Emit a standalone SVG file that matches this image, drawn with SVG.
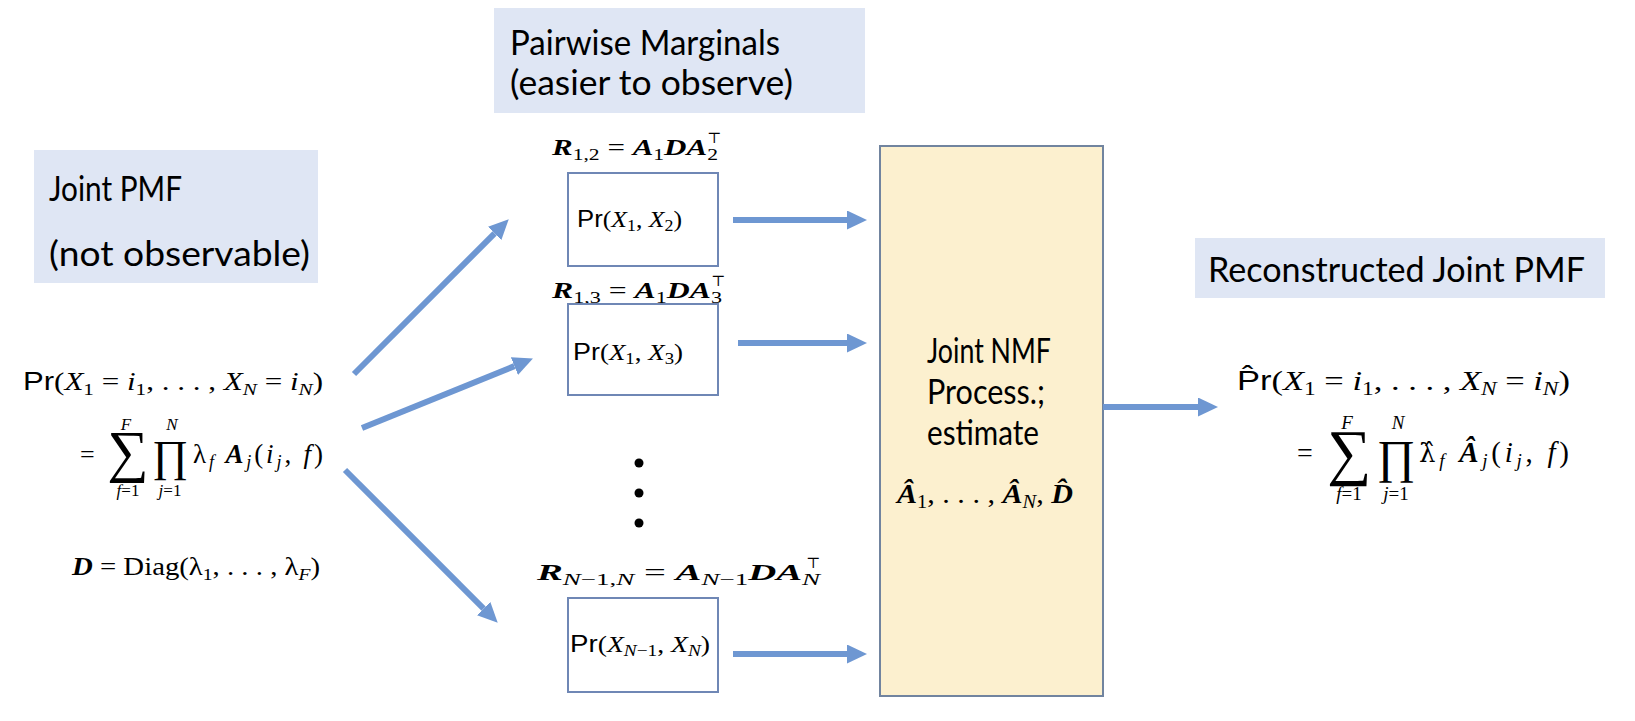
<svg xmlns="http://www.w3.org/2000/svg" width="1635" height="721" viewBox="0 0 1635 721">
<style>
.title{font-family:"Lato","Open Sans","Liberation Sans",sans-serif;font-size:34px;fill:#000}
.tbox{fill:#dfe6f4;stroke:none}
.m{font-family:"Liberation Serif","DejaVu Serif",serif;font-style:italic;fill:#000}
.b{font-weight:bold}
.nb{font-weight:normal}
.up{font-style:normal}
.it{font-style:italic}
.sf{font-family:"Liberation Sans","DejaVu Sans",sans-serif;font-style:normal}
.dj{font-family:"DejaVu Serif",serif}
.pbox{fill:#fff;stroke:#6f87b5;stroke-width:2}
.ybox{fill:#fcf0cf;stroke:#71849f;stroke-width:2}
.conn{stroke:#6e97d2;stroke-width:6;fill:none;marker-end:url(#ah)}
</style>
<defs>
<marker id="ah" markerUnits="userSpaceOnUse" markerWidth="20" markerHeight="19" viewBox="0 0 20 19" refX="0" refY="9.5" orient="auto">
<path d="M0,0 L20,9.5 L0,19 z" fill="#6e97d2"/>
</marker>
</defs>

<g id="title-joint">
<rect class="tbox" x="34" y="150" width="284" height="133"/>
<text class="title" x="49" y="201" textLength="133" lengthAdjust="spacingAndGlyphs">Joint PMF</text>
<text class="title" x="49" y="266" textLength="261" lengthAdjust="spacingAndGlyphs">(not observable)</text>
</g>

<g id="title-pairwise">
<rect class="tbox" x="494" y="8" width="371" height="105"/>
<text class="title" x="510" y="55" textLength="270" lengthAdjust="spacingAndGlyphs">Pairwise Marginals</text>
<text class="title" x="510" y="95" textLength="283" lengthAdjust="spacingAndGlyphs">(easier to observe)</text>
</g>

<g id="title-reconstructed">
<rect class="tbox" x="1195" y="238" width="410" height="60"/>
<text class="title" x="1208" y="282" textLength="377" lengthAdjust="spacingAndGlyphs">Reconstructed Joint PMF</text>
</g>

<g id="joint-pmf-formula">
<text class="m" font-size="25" x="23" y="390" textLength="300" lengthAdjust="spacingAndGlyphs"><tspan class="sf">Pr</tspan><tspan class="up">(</tspan>X<tspan class="up" font-size="17" dy="5">1</tspan><tspan class="up" dy="-5"> = </tspan>i<tspan class="up" font-size="17" dy="5">1</tspan><tspan class="up" dy="-5">, . . . , </tspan>X<tspan font-size="17" dy="5">N</tspan><tspan class="up" dy="-5"> = </tspan>i<tspan font-size="17" dy="5">N</tspan><tspan class="up" dy="-5">)</tspan></text>
<text class="m up" font-size="26" x="80" y="463">=</text>
<text class="m up" text-anchor="middle"><tspan class="it" font-size="17" x="126" y="430">F</tspan><tspan font-size="58" x="128" y="471">∑</tspan><tspan font-size="17" x="128" y="496"><tspan class="it">f</tspan>=1</tspan></text>
<text class="m up" text-anchor="middle"><tspan class="it" font-size="17" x="172" y="430">N</tspan><tspan font-size="44" x="170" y="471">∏</tspan><tspan font-size="17" x="170" y="496"><tspan class="it">j</tspan>=1</tspan></text>
<text class="m" font-size="27" x="193" y="463" textLength="130" lengthAdjust="spacing"><tspan class="up">λ</tspan><tspan font-size="18" dy="5">f</tspan><tspan class="b" dy="-5"> A</tspan><tspan font-size="18" dy="5">j</tspan><tspan class="up" dy="-5">(</tspan>i<tspan font-size="18" dy="5">j</tspan><tspan class="up" dy="-5">, </tspan>f<tspan class="up">)</tspan></text>
<text class="m" font-size="25" x="72" y="575" textLength="248" lengthAdjust="spacingAndGlyphs"><tspan class="b">D</tspan><tspan class="up"> = Diag(λ</tspan><tspan class="up" font-size="17" dy="5">1</tspan><tspan class="up" dy="-5">, . . . , λ</tspan><tspan font-size="17" dy="5">F</tspan><tspan class="up" dy="-5">)</tspan></text>
</g>

<g id="marginal-12">
<text class="m b" font-size="23" x="552" y="155" textLength="166" lengthAdjust="spacingAndGlyphs">R<tspan class="up nb" font-size="16" dy="5">1,2</tspan><tspan class="up nb" dy="-5"> = </tspan>A<tspan class="up nb" font-size="16" dy="5">1</tspan><tspan dy="-5">DA</tspan><tspan class="up nb" font-size="16" dy="5">2</tspan></text>
<text class="m up" font-size="15" x="707" y="143">⊤</text>
<rect class="pbox" x="568" y="173" width="150" height="93"/>
<text class="m" font-size="23" x="577" y="227" textLength="105" lengthAdjust="spacingAndGlyphs"><tspan class="sf">Pr</tspan><tspan class="up">(</tspan>X<tspan class="up" font-size="16" dy="4">1</tspan><tspan class="up" dy="-4">, </tspan>X<tspan class="up" font-size="16" dy="4">2</tspan><tspan class="up" dy="-4">)</tspan></text>
</g>

<g id="marginal-13">
<text class="m b" font-size="23" x="552" y="298" textLength="170" lengthAdjust="spacingAndGlyphs">R<tspan class="up nb" font-size="16" dy="5">1,3</tspan><tspan class="up nb" dy="-5"> = </tspan>A<tspan class="up nb" font-size="16" dy="5">1</tspan><tspan dy="-5">DA</tspan><tspan class="up nb" font-size="16" dy="5">3</tspan></text>
<text class="m up" font-size="15" x="711" y="286">⊤</text>
<rect class="pbox" x="568" y="304" width="150" height="91"/>
<text class="m" font-size="23" x="573" y="360" textLength="110" lengthAdjust="spacingAndGlyphs"><tspan class="sf">Pr</tspan><tspan class="up">(</tspan>X<tspan class="up" font-size="16" dy="4">1</tspan><tspan class="up" dy="-4">, </tspan>X<tspan class="up" font-size="16" dy="4">3</tspan><tspan class="up" dy="-4">)</tspan></text>
</g>

<g id="ellipsis">
<circle cx="639" cy="463" r="4.5" fill="#000"/>
<circle cx="639" cy="493" r="4.5" fill="#000"/>
<circle cx="639" cy="523" r="4.5" fill="#000"/>
</g>

<g id="marginal-n">
<text class="m b" font-size="23" x="537" y="580" textLength="283" lengthAdjust="spacingAndGlyphs">R<tspan class="nb" font-size="16" dy="5">N<tspan class="up">−1,</tspan>N</tspan><tspan class="up nb" dy="-5"> = </tspan>A<tspan class="nb" font-size="16" dy="5">N<tspan class="up">−1</tspan></tspan><tspan dy="-5">DA</tspan><tspan class="nb" font-size="16" dy="5">N</tspan></text>
<text class="m up" font-size="15" x="806" y="568">⊤</text>
<rect class="pbox" x="568" y="598" width="150" height="94"/>
<text class="m" font-size="23" x="570" y="652" textLength="140" lengthAdjust="spacingAndGlyphs"><tspan class="sf">Pr</tspan><tspan class="up">(</tspan>X<tspan font-size="16" dy="4">N<tspan class="up">−1</tspan></tspan><tspan class="up" dy="-4">, </tspan>X<tspan font-size="16" dy="4">N</tspan><tspan class="up" dy="-4">)</tspan></text>
</g>

<g id="joint-nmf">
<rect class="ybox" x="880" y="146" width="223" height="550"/>
<text class="title" font-size="31" x="927" y="363" textLength="124" lengthAdjust="spacingAndGlyphs">Joint NMF</text>
<text class="title" font-size="31" x="927" y="404" textLength="118" lengthAdjust="spacingAndGlyphs">Process.;</text>
<text class="title" font-size="31" x="927" y="445" textLength="112" lengthAdjust="spacingAndGlyphs">estimate</text>
<text class="m b" font-size="28" x="897" y="503" textLength="176" lengthAdjust="spacingAndGlyphs">Â<tspan class="up nb" font-size="19" dy="5">1</tspan><tspan class="up nb" dy="-5">, . . . , </tspan>Â<tspan class="nb" font-size="19" dy="5">N</tspan><tspan class="up nb" dy="-5">, </tspan>D̂</text>
</g>

<g id="reconstructed-formula">
<text class="m" font-size="28" x="1237" y="390" textLength="333" lengthAdjust="spacingAndGlyphs"><tspan class="sf">P̂r</tspan><tspan class="up">(</tspan>X<tspan class="up" font-size="19" dy="5">1</tspan><tspan class="up" dy="-5"> = </tspan>i<tspan class="up" font-size="19" dy="5">1</tspan><tspan class="up" dy="-5">, . . . , </tspan>X<tspan font-size="19" dy="5">N</tspan><tspan class="up" dy="-5"> = </tspan>i<tspan font-size="19" dy="5">N</tspan><tspan class="up" dy="-5">)</tspan></text>
<text class="m up" font-size="28" x="1297" y="462">=</text>
<text class="m up" text-anchor="middle"><tspan class="it" font-size="19" x="1347" y="429">F</tspan><tspan font-size="62" x="1349" y="473">∑</tspan><tspan font-size="19" x="1349" y="500"><tspan class="it">f</tspan>=1</tspan></text>
<text class="m up" text-anchor="middle"><tspan class="it" font-size="19" x="1398" y="429">N</tspan><tspan font-size="47" x="1396" y="473">∏</tspan><tspan font-size="19" x="1396" y="500"><tspan class="it">j</tspan>=1</tspan></text>
<text class="m" font-size="29" x="1419" y="462" textLength="150" lengthAdjust="spacing"><tspan class="up dj" font-size="26">λ̂</tspan><tspan font-size="19" dy="5">f</tspan><tspan class="b" dy="-5"> Â</tspan><tspan font-size="19" dy="5">j</tspan><tspan class="up" dy="-5">(</tspan>i<tspan font-size="19" dy="5">j</tspan><tspan class="up" dy="-5">, </tspan>f<tspan class="up">)</tspan></text>
</g>

<g id="connectors">
<line class="conn" x1="354" y1="374" x2="494.6" y2="233.4"/>
<line class="conn" x1="362" y1="428" x2="514.4" y2="366.1"/>
<line class="conn" x1="345" y1="470" x2="483.6" y2="608.6"/>
<line class="conn" x1="733" y1="220" x2="847" y2="220"/>
<line class="conn" x1="738" y1="343" x2="847" y2="343"/>
<line class="conn" x1="733" y1="654" x2="847" y2="654"/>
<line class="conn" x1="1103" y1="407" x2="1198" y2="407"/>
</g>
</svg>
